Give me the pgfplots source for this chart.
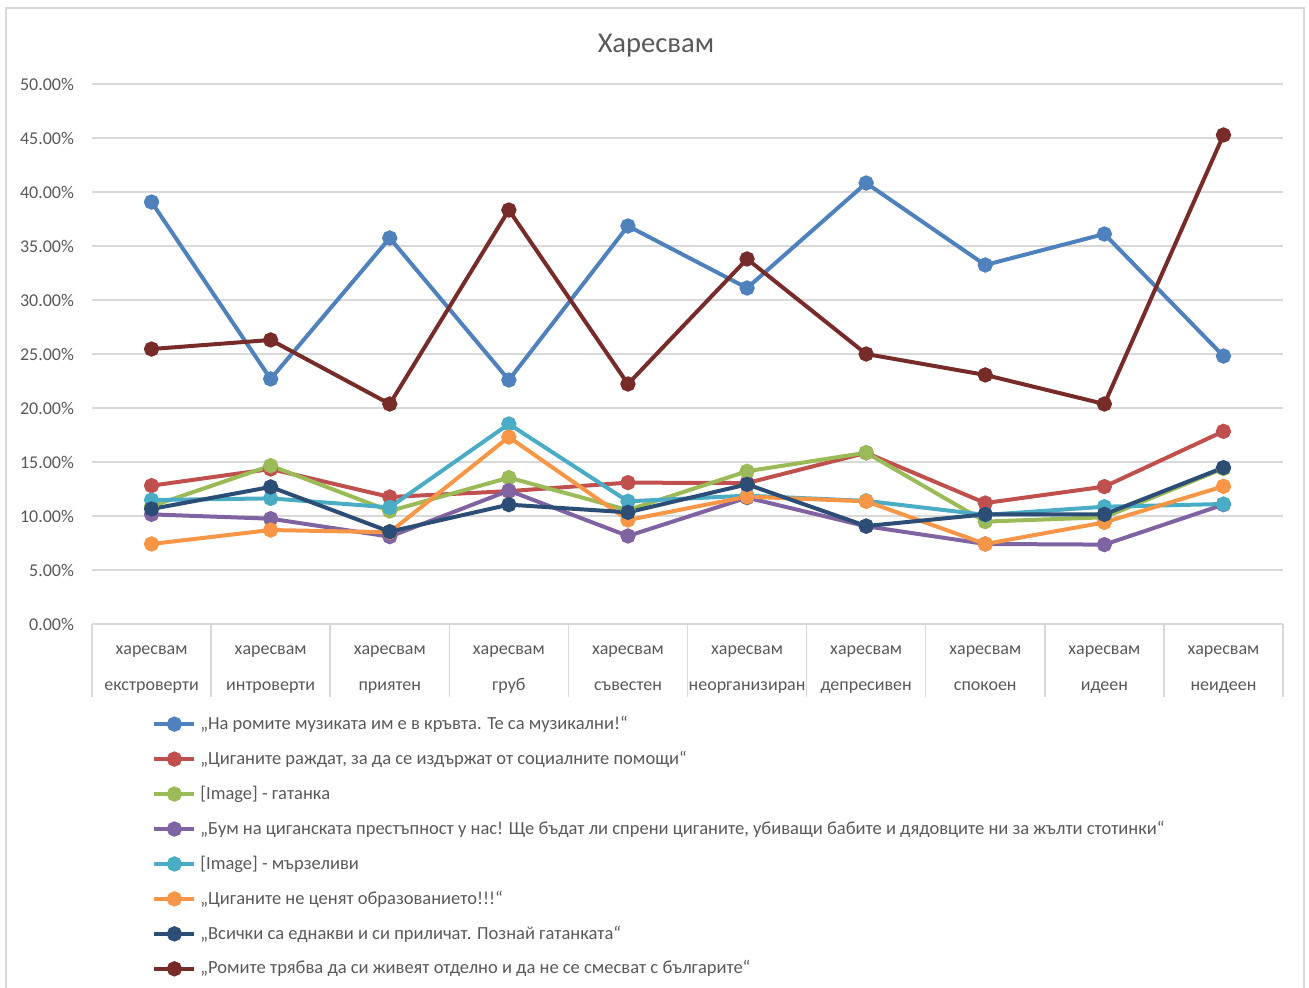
\documentclass[border=0pt]{standalone}
\usepackage{pgfplots}
\pgfplotsset{compat=1.18}
\usepackage{fontspec}
\setmainfont{Carlito}
\definecolor{s1}{HTML}{4F81BD}
\definecolor{s2}{HTML}{C0504D}
\definecolor{s3}{HTML}{9BBB59}
\definecolor{s4}{HTML}{8064A2}
\definecolor{s5}{HTML}{4BACC6}
\definecolor{s6}{HTML}{F79646}
\definecolor{s7}{HTML}{2C4D75}
\definecolor{s8}{HTML}{772C2A}
\definecolor{txt}{HTML}{595959}
\definecolor{gridc}{HTML}{D9D9D9}
\begin{document}
\begin{tikzpicture}
\path[use as bounding box] (0,0) rectangle (654.5pt,494pt);
\draw[color=gridc, line width=0.75pt] (3pt,-5pt) -- (3pt,490pt) -- (652pt,490pt) -- (652pt,-5pt);
\node[text=txt, font=\fontsize{14.3}{16}\selectfont] at (328pt,471pt) {Харесвам};
\begin{axis}[
  at={(46pt,182pt)}, anchor=south west,
  scale only axis, width=595.5pt, height=270pt,
  xmin=-0.5, xmax=9.5, ymin=0, ymax=50,
  xtick={0,...,9},
  xticklabels={{харесвам\\екстроверти},{харесвам\\интроверти},{харесвам\\приятен},{харесвам\\груб},{харесвам\\съвестен},{харесвам\\неорганизиран},{харесвам\\депресивен},{харесвам\\спокоен},{харесвам\\идеен},{харесвам\\неидеен}},
  xticklabel style={align=center, font=\fontsize{9}{18}\selectfont, text=txt, yshift=-7.5pt},
  minor xtick={-0.5,0.5,...,9.5},
  ytick={0,5,...,50},
  yticklabel={\pgfmathprintnumber[fixed,fixed zerofill,precision=2]{\tick}\%},
  yticklabel style={font=\fontsize{9}{11}\selectfont, text=txt, xshift=-5.5pt},
  /pgf/number format/assume math mode=true,
  tick align=outside, xtick pos=bottom, ytick pos=left,
  major tick length=0pt, minor tick length=36.5pt,
  minor x tick style={draw=gridc, line width=0.75pt},
  ymajorgrids, major grid style={draw=gridc, line width=0.75pt},
  axis line style={draw=none},
  every axis plot/.append style={line width=2pt, mark=*, mark size=2.8pt, mark options={solid}},
  legend style={draw=none, fill=none, at={(0.0504,-0.1622)}, anchor=north west, font=\fontsize{9.25}{11}\selectfont, text=txt, row sep=5.3pt, inner sep=0pt, cells={anchor=west}, nodes={inner xsep=2pt}},
  legend image code/.code={\draw[#1, mark repeat=2, mark phase=2] plot coordinates {(0pt,0pt) (10pt,0pt) (20pt,0pt)};},
]
\addplot[s1] coordinates {(0,39.07) (1,22.69) (2,35.74) (3,22.59) (4,36.85) (5,31.11) (6,40.83) (7,33.24) (8,36.11) (9,24.81)};
\addlegendentry{„На ромите музиката им е в кръвта. Те са музикални!“}
\addplot[s2] coordinates {(0,12.81) (1,14.35) (2,11.76) (3,12.3) (4,13.09) (5,13.05) (6,15.85) (7,11.20) (8,12.72) (9,17.84)};
\addlegendentry{„Циганите раждат, за да се издържат от социалните помощи“}
\addplot[s3] coordinates {(0,10.9) (1,14.66) (2,10.46) (3,13.55) (4,10.55) (5,14.14) (6,15.86) (7,9.48) (8,9.88) (9,14.4)};
\addlegendentry{[Image] - гатанка}
\addplot[s4] coordinates {(0,10.15) (1,9.75) (2,8.09) (3,12.35) (4,8.15) (5,11.7) (6,9.05) (7,7.41) (8,7.35) (9,11.05)};
\addlegendentry{„Бум на циганската престъпност у нас! Ще бъдат ли спрени циганите, убиващи бабите и дядовците ни за жълти стотинки“}
\addplot[s5] coordinates {(0,11.48) (1,11.63) (2,10.80) (3,18.52) (4,11.36) (5,11.88) (6,11.4) (7,10.1) (8,10.86) (9,11.11)};
\addlegendentry{[Image] - мързеливи}
\addplot[s6] coordinates {(0,7.41) (1,8.70) (2,8.5) (3,17.31) (4,9.63) (5,11.79) (6,11.36) (7,7.41) (8,9.41) (9,12.75)};
\addlegendentry{„Циганите не ценят образованието!!!“}
\addplot[s7] coordinates {(0,10.65) (1,12.69) (2,8.55) (3,11.05) (4,10.34) (5,12.93) (6,9.07) (7,10.15) (8,10.15) (9,14.48)};
\addlegendentry{„Всички са еднакви и си приличат. Познай гатанката“}
\addplot[s8] coordinates {(0,25.46) (1,26.30) (2,20.37) (3,38.33) (4,22.22) (5,33.80) (6,25.0) (7,23.06) (8,20.37) (9,45.28)};
\addlegendentry{„Ромите трябва да си живеят отделно и да не се смесват с българите“}
\end{axis}
\end{tikzpicture}
\end{document}
